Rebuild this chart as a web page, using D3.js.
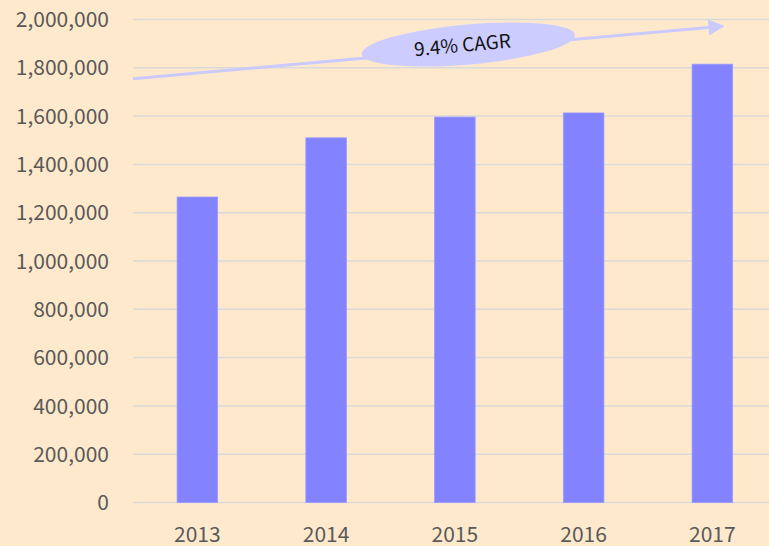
<!DOCTYPE html>
<html>
<head>
<meta charset="utf-8">
<script src="https://cdn.jsdelivr.net/npm/d3@7"></script>
<style>
  html, body { margin: 0; padding: 0; background: #FFE9CC; }
  svg { display: block; }
  text { font-family: "Noto Sans CJK SC", "Noto Sans", sans-serif; }
</style>
</head>
<body>
<svg id="chart" width="769" height="546"></svg>
<script>
// Annual totals, 2013–2017
const years = ["2013", "2014", "2015", "2016", "2017"];
const values = [1265000, 1510000, 1596000, 1613000, 1815000];
const yTicks = [0, 200000, 400000, 600000, 800000, 1000000, 1200000, 1400000, 1600000, 1800000, 2000000];
const cagrLabel = "9.4% CAGR";

const W = 769, H = 546;
const plotLeft = 133, plotTop = 19.5, plotBottom = 502.5;

const svg = d3.select("#chart");

const x = d3.scaleBand()
  .domain(years)
  .range([plotLeft, plotLeft + 5 * 128.75])
  .paddingInner(0.685)
  .paddingOuter(0.3425);

const y = d3.scaleLinear()
  .domain([0, 2000000])
  .range([plotBottom, plotTop]);

const fmt = d3.format(",");

// Horizontal gridlines
svg.append("g")
  .selectAll("line")
  .data(yTicks)
  .join("line")
  .attr("x1", plotLeft)
  .attr("x2", W)
  .attr("y1", d => y(d))
  .attr("y2", d => y(d))
  .attr("stroke", "#D9D9D9")
  .attr("stroke-width", 1.5);

// Y axis labels
const yAxis = d3.axisLeft(y).tickValues(yTicks).tickFormat(fmt).tickSize(0).tickPadding(0);
const gy = svg.append("g").attr("transform", `translate(${plotLeft - 24},0)`).call(yAxis);
gy.select(".domain").remove();
gy.selectAll("text")
  .attr("fill", "#595959")
  .style("font-size", "21px")
  .attr("dy", "0.34em");

// X axis labels
const xAxis = d3.axisBottom(x).tickSize(0).tickPadding(0);
const gx = svg.append("g").attr("transform", `translate(0,${plotBottom + 24})`).call(xAxis);
gx.select(".domain").remove();
gx.selectAll("text")
  .attr("fill", "#595959")
  .style("font-size", "21px")
  .attr("dy", "0.72em");

// Bars
svg.append("g")
  .selectAll("rect")
  .data(years.map((yr, i) => ({ yr, v: values[i] })))
  .join("rect")
  .attr("x", d => x(d.yr))
  .attr("width", x.bandwidth())
  .attr("y", d => y(d.v))
  .attr("height", d => y(0) - y(d.v))
  .attr("fill", "#8383FF")
  .attr("stroke", "#9A9AFF")
  .attr("stroke-width", 0.8);

// Growth arrow
const arrowStart = [plotLeft, y(1755000)];
const arrowEnd = [x("2017") + x.bandwidth() / 2 + 14.5, y(1974000)];
const defs = svg.append("defs");
defs.append("marker")
  .attr("id", "head")
  .attr("viewBox", "0 0 10 10")
  .attr("refX", 9)
  .attr("refY", 5)
  .attr("markerUnits", "userSpaceOnUse")
  .attr("markerWidth", 16)
  .attr("markerHeight", 16)
  .attr("orient", "auto")
  .append("path")
  .attr("d", "M0,0 L10,5 L0,10 Z")
  .attr("fill", "#CACAFF");

svg.append("line")
  .attr("x1", arrowStart[0])
  .attr("y1", arrowStart[1])
  .attr("x2", arrowEnd[0] - 4)
  .attr("y2", arrowEnd[1] + 0.4)
  .attr("stroke", "#CACAFF")
  .attr("stroke-width", 3)
  .attr("marker-end", "url(#head)");

// CAGR ellipse label
const angle = Math.atan2(arrowEnd[1] - arrowStart[1], arrowEnd[0] - arrowStart[0]) * 180 / Math.PI;
const cx = x("2015") + x.bandwidth() / 2 + 13.5;
const cy = y(1896500);
const badge = svg.append("g").attr("transform", `translate(${cx},${cy}) rotate(${angle})`);
badge.append("ellipse")
  .attr("rx", 107)
  .attr("ry", 20)
  .attr("fill", "#CCCCFF");
badge.append("text")
  .attr("x", -6)
  .attr("y", 0)
  .attr("dy", "0.36em")
  .attr("text-anchor", "middle")
  .attr("fill", "#111")
  .style("font-size", "19px")
  .text(cagrLabel);
</script>
</body>
</html>
